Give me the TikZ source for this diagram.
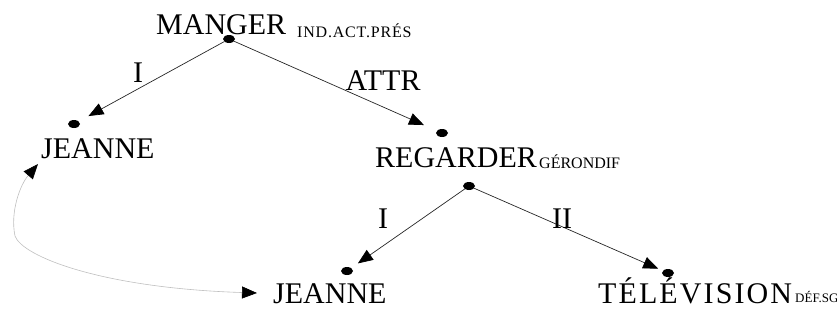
\documentclass[tikz,border=0pt]{standalone}
\usepackage{fontspec}
\setmainfont{Liberation Serif}
\usetikzlibrary{arrows.meta,shapes.geometric}
\begin{document}
\begin{tikzpicture}[x=1pt,y=-1pt,
  word/.style={anchor=base west,inner sep=0pt,font=\fontsize{30}{30}\selectfont},
  gram/.style={anchor=base west,inner sep=0pt,font=\fontsize{16}{16}\selectfont},
  rel/.style={anchor=base,inner sep=0pt,font=\fontsize{30}{30}\selectfont},
  knot/.style={ellipse,fill=black,inner sep=0pt,minimum width=12pt,minimum height=8pt},
  tip/.style={Triangle[length=15pt,width=12pt,black]},
  dep/.style={draw=black!85,line width=0.7pt,-{Triangle[length=15pt,width=12pt,black]}},
  coref/.style={draw=black!25,line width=0.6pt,
    {Triangle[length=15pt,width=12pt,black]}-{Triangle[length=15pt,width=12pt,black]}}]
\useasboundingbox (0,0) rectangle (837,324);

% lexical units and their grammatical markers
\node[word] (manger) at (156,34) {MANGER};
\node[gram] (mangerG) at (297,37) {\addfontfeatures{LetterSpace=5}IND.ACT.PRÉS};
\node[word] (jeanneA) at (41,158) {JEANNE};
\node[word] (regarder) at (375,167) {REGARDER};
\node[gram] (regarderG) at (539,168) {GÉRONDIF};
\node[word] (jeanneB) at (273,303) {JEANNE};
\node[word] (tele) at (598,303) {\addfontfeatures{LetterSpace=7}TÉLÉVISION};
\node[gram,font=\fontsize{13}{13}\selectfont] (teleG) at (795,302) {DÉF.SG};

% attachment points
\node[knot] (kM) at (229,39) {};
\node[knot] (kJA) at (74,124) {};
\node[knot] (kR1) at (442,133) {};
\node[knot] (kR2) at (469,186) {};
\node[knot] (kJB) at (347,271) {};
\node[knot] (kT) at (668,273) {};

% dependency arcs
\draw[dep,shorten >=11pt] (kM) -- (kJA);
\draw[dep,shorten >=14pt] (kM) -- (kR1);
\draw[dep,shorten >=8pt] (kR2) -- (kJB);
\draw[dep,shorten >=5pt] (kR2) -- (kT);

% relation labels
\node[rel] (lI1) at (138,82) {I};
\node[rel] (lAttr) at (383,90) {ATTR};
\node[rel] (lI2) at (383,228) {I};
\node[rel] (lII) at (562,228) {II};

% coreference link between the two occurrences of JEANNE
\coordinate (cTop) at (38,164);
\coordinate (cBot) at (257,293);
\draw[coref] (cTop) .. controls (20,185) and (10,212) .. (15,236)
  .. controls (22,256) and (100,288) .. (cBot);
\end{tikzpicture}
\end{document}
